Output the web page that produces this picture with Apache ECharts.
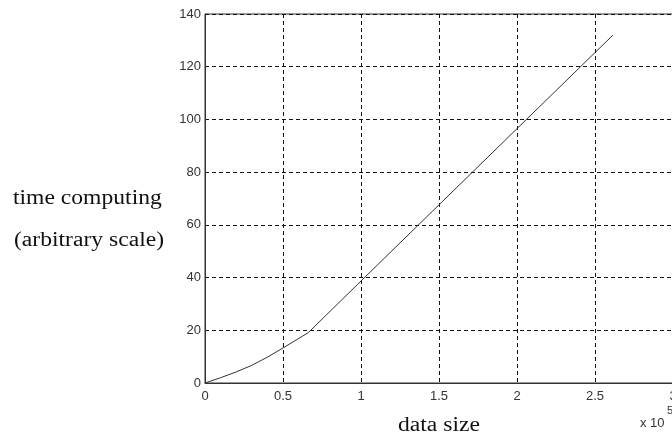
<!DOCTYPE html>
<html><head><meta charset="utf-8">
<script src="https://cdn.jsdelivr.net/npm/echarts@6/dist/echarts.min.js"></script>
<style>html,body{margin:0;padding:0;background:#fff}#c{width:672px;height:439px}</style>
</head><body><div id="c"></div>
<script>
var xValues = [0, 0.1, 0.2, 0.3, 0.4, 0.5, 0.662, 1.0, 1.5, 2.0, 2.615];
var yValues = [0, 2, 4.2, 6.7, 9.8, 13.3, 19.1, 38.7, 67.6, 96.5, 132];
var xTicks = ['0', '0.5', '1', '1.5', '2', '2.5', '3'];
var yTicks = [0, 20, 40, 60, 80, 100, 120, 140];

var data = xValues.map(function (x, i) { return [x, yValues[i]]; });
var chart = echarts.init(document.getElementById('c'), null, {renderer: 'canvas'});
var dash = {type: [4, 3], color: '#111', width: 1};
var serif = '"Liberation Serif", "Times New Roman", serif';
var sans = '"Liberation Sans", Arial, sans-serif';
chart.setOption({
  animation: false,
  backgroundColor: '#fff',
  grid: {left: 205, top: 14, width: 468, height: 369, show: true, borderColor: '#333', borderWidth: 1,
    backgroundColor: 'transparent', containLabel: false, outerBoundsMode: 'none'},
  xAxis: {
    type: 'value', min: 0, max: 3, interval: 0.5,
    axisLine: {show: true, lineStyle: {color: '#333', width: 1}},
    axisTick: {show: false},
    splitLine: {show: true, lineStyle: dash},
    axisLabel: {color: '#333', fontSize: 13, fontFamily: sans, margin: 7, showMaxLabel: true,
      formatter: function (v) { return xTicks[Math.round(v * 2)]; }}
  },
  yAxis: {
    type: 'value', min: 0, max: 140, interval: 20,
    axisLine: {show: true, lineStyle: {color: '#333', width: 1}},
    axisTick: {show: false},
    splitLine: {show: true, lineStyle: dash},
    axisLabel: {color: '#333', fontSize: 13, fontFamily: sans, margin: 4,
      formatter: function (v) { return yTicks.indexOf(v) >= 0 ? String(v) : ''; }}
  },
  series: [{
    type: 'line', data: data, showSymbol: false, smooth: false,
    lineStyle: {color: '#333', width: 1}, z: 5
  }],
  graphic: [
    {type: 'text', x: 13, y: 199, scaleX: 1.18, style: {text: 'time computing', fontSize: 20, fontFamily: serif, fill: '#111', verticalAlign: 'middle'}},
    {type: 'text', x: 14, y: 241, scaleX: 1.18, style: {text: '(arbitrary scale)', fontSize: 20, fontFamily: serif, fill: '#111', verticalAlign: 'middle'}},
    {type: 'text', x: 398, y: 426, scaleX: 1.18, style: {text: 'data size', fontSize: 20, fontFamily: serif, fill: '#111', verticalAlign: 'middle'}},
    {type: 'text', x: 640, y: 423, style: {text: 'x 10', fontSize: 13, fontFamily: sans, fill: '#333', verticalAlign: 'middle'}},
    {type: 'text', x: 667, y: 411, style: {text: '5', fontSize: 11, fontFamily: sans, fill: '#333', verticalAlign: 'middle'}}
  ]
});
</script></body></html>
